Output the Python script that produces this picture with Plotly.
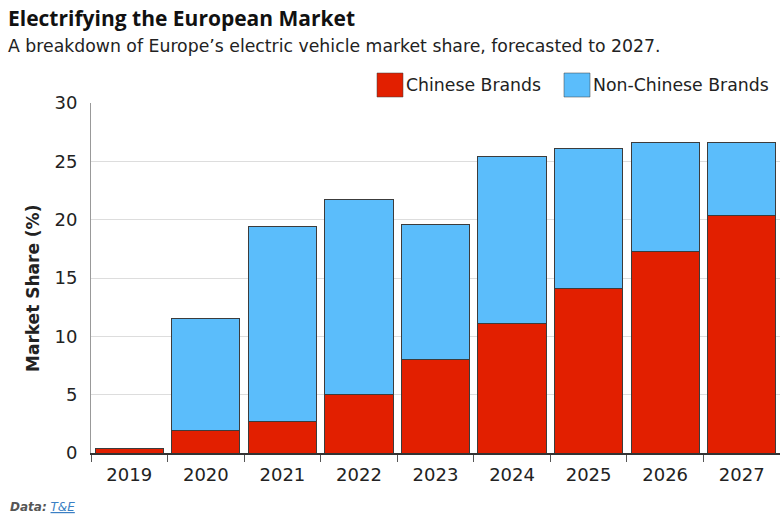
import plotly.graph_objects as go

years = ["2019", "2020", "2021", "2022", "2023", "2024", "2025", "2026", "2027"]
chinese = [0.4, 1.9, 2.7, 5.0, 8.0, 11.1, 14.1, 17.3, 20.4]
total = [0.4, 11.5, 19.4, 21.7, 19.6, 25.4, 26.1, 26.6, 26.6]
non_chinese = [round(t - c, 2) for t, c in zip(total, chinese)]

RED = "#e21f00"
BLUE = "#5bbdfb"
EDGE = "#3c3c3c"
FONT = "DejaVu Sans"
TITLE_FONT = "Open Sans"

# plot area geometry (px) used to place the header and footer texts
L, T, PW, PH = 91, 103, 689, 350


def px_x(px):
    return (px - L) / PW


def px_y(py):
    return 1 + (T - py) / PH


fig = go.Figure()
fig.add_trace(go.Bar(x=years, y=chinese, name="Chinese Brands",
                     marker=dict(color=RED, line=dict(color=EDGE, width=1)),
                     showlegend=False))
fig.add_trace(go.Bar(x=years, y=non_chinese, name="Non-Chinese Brands",
                     marker=dict(color=BLUE, line=dict(color=EDGE, width=1)),
                     showlegend=False))

fig.update_layout(
    barmode="stack",
    bargap=0.11,
    width=780, height=514,
    margin=dict(l=L, r=780 - L - PW, t=T, b=514 - T - PH),
    paper_bgcolor="white", plot_bgcolor="white",
    font=dict(family=FONT, color="#222222"),
    xaxis=dict(
        showline=True, linecolor="#333333", linewidth=1.5,
        ticks="outside", tickson="boundaries", ticklen=7, tickcolor="#555555",
        tickfont=dict(size=18, color="#222222"),
        ticklabelstandoff=5,
        showgrid=False,
    ),
    yaxis=dict(
        range=[0, 30], tickvals=[0, 5, 10, 15, 20, 25, 30],
        showline=True, linecolor="#999999", linewidth=1,
        showgrid=True, gridcolor="#dddddd", gridwidth=1,
        ticks="", ticklabelstandoff=9,
        tickfont=dict(size=18, color="#222222"),
        zeroline=False,
    ),
)

# Axis title
fig.add_annotation(text="<b>Market Share (%)</b>", xref="paper", yref="paper",
                   x=px_x(33), y=px_y(289), textangle=-90,
                   xanchor="center", yanchor="middle", showarrow=False,
                   font=dict(size=17, color="#222222", family=FONT))

# Title and subtitle
fig.add_annotation(text="<b>Electrifying the European Market</b>", xref="paper", yref="paper",
                   x=px_x(6), y=px_y(18), xanchor="left", yanchor="middle",
                   showarrow=False, font=dict(size=21, color="#111111", family=TITLE_FONT))
fig.add_annotation(text="A breakdown of Europe\u2019s electric vehicle market share, forecasted to 2027.",
                   xref="paper", yref="paper",
                   x=px_x(6), y=px_y(46), xanchor="left", yanchor="middle",
                   showarrow=False, font=dict(size=17.3, color="#222222", family=FONT))

# Legend drawn with swatches and labels
legend_items = [("Chinese Brands", RED, 377), ("Non-Chinese Brands", BLUE, 564)]
for label, color, px in legend_items:
    fig.add_shape(type="rect", xref="paper", yref="paper",
                  x0=px_x(px), x1=px_x(px + 26), y0=px_y(97), y1=px_y(73),
                  fillcolor=color, line=dict(color=EDGE, width=0.5))
    fig.add_annotation(text=label, xref="paper", yref="paper",
                       x=px_x(px + 27), y=px_y(85),
                       xanchor="left", yanchor="middle", showarrow=False,
                       font=dict(size=17.3, color="#222222", family=FONT))

# Source note
fig.add_annotation(text="<i><b>Data:</b> <a href='https://www.transportenvironment.org' style='color:#3b7fc4'><u>T&amp;E</u></a></i>",
                   xref="paper", yref="paper",
                   x=px_x(8), y=px_y(507), xanchor="left", yanchor="middle",
                   showarrow=False, font=dict(size=12, color="#555555", family=FONT))

fig.write_html("out.html")
